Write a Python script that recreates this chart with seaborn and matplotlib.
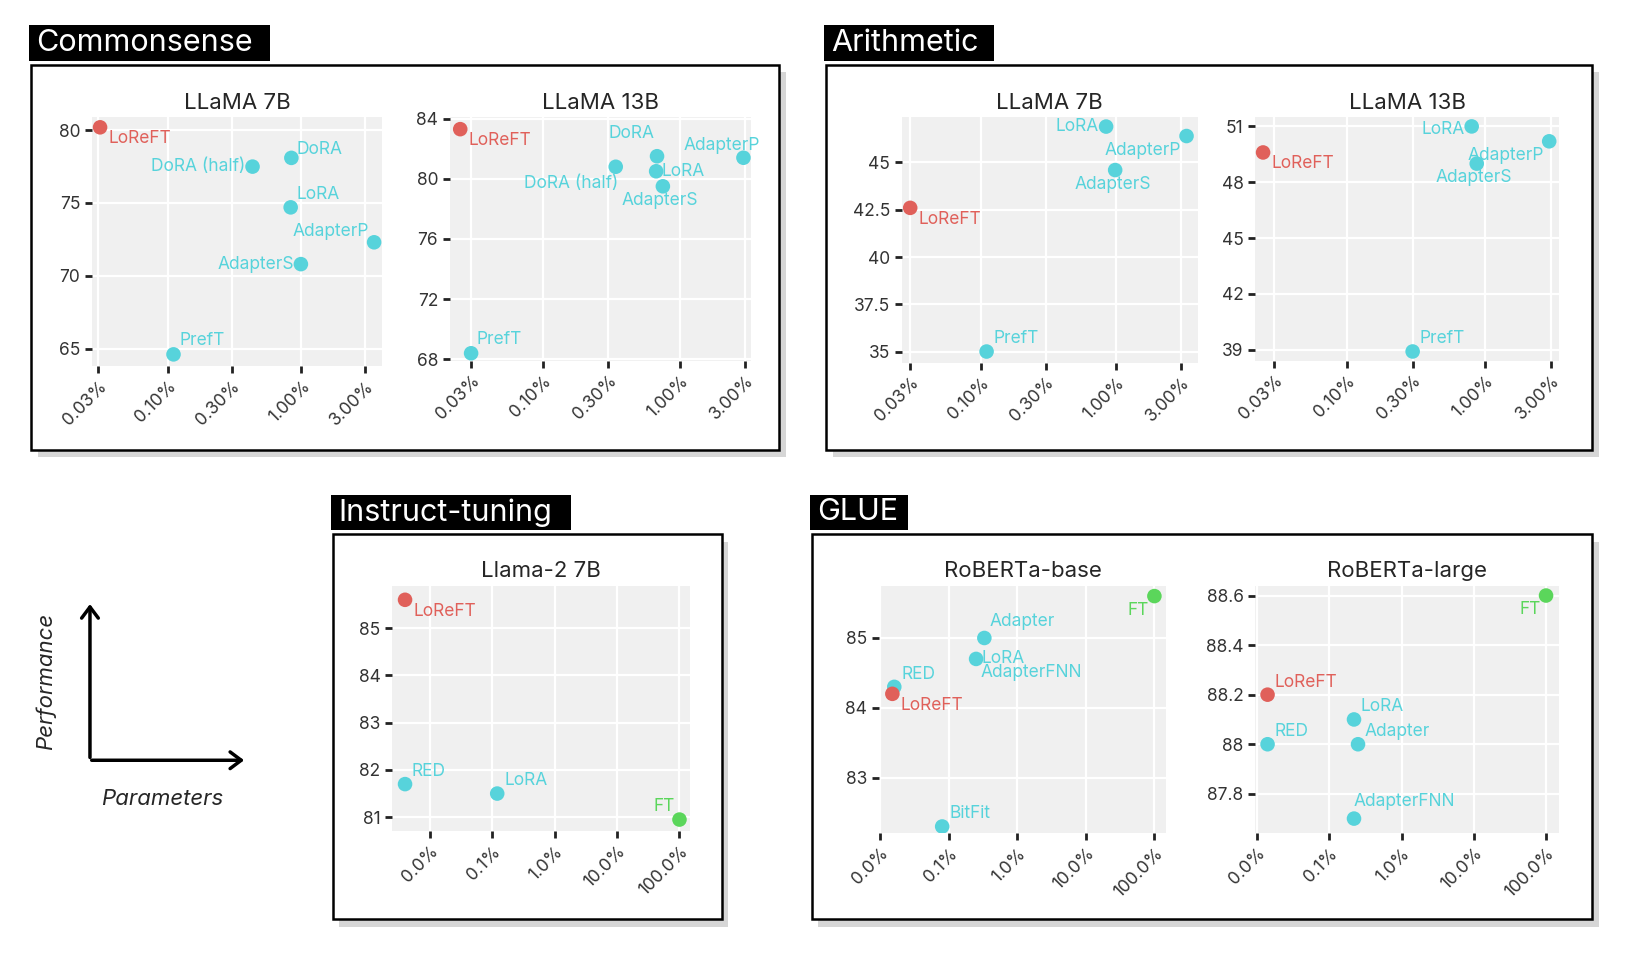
import numpy as np
import pandas as pd
import matplotlib
matplotlib.use("Agg")
import matplotlib.pyplot as plt
import seaborn as sns
from matplotlib.patches import Rectangle

sns.set_theme(style="darkgrid")
plt.rcParams["font.family"] = ["Inter", "DejaVu Sans"]

RED, CYAN, GREEN = "#E0605A", "#57D3DB", "#5BD65B"

# --- data (parameter %, score) ---
cs7_methods = ["LoReFT", "DoRA", "DoRA (half)", "LoRA", "AdapterP", "AdapterS", "PrefT"]
cs7_params = [0.031, 0.84, 0.43, 0.83, 3.5, 0.99, 0.11]
cs7_scores = [80.2, 78.1, 77.5, 74.7, 72.3, 70.8, 64.6]

cs13_methods = ["LoReFT", "DoRA", "DoRA (half)", "LoRA", "AdapterS", "AdapterP", "PrefT"]
cs13_params = [0.025, 0.68, 0.34, 0.67, 0.75, 2.9, 0.03]
cs13_scores = [83.3, 81.5, 80.8, 80.5, 79.5, 81.4, 68.4]

ar7_methods = ["LoReFT", "PrefT", "LoRA", "AdapterS", "AdapterP"]
ar7_params = [0.03, 0.11, 0.84, 0.98, 3.3]
ar7_scores = [42.6, 35.0, 46.9, 44.6, 46.4]

ar13_methods = ["LoReFT", "PrefT", "LoRA", "AdapterS", "AdapterP"]
ar13_params = [0.025, 0.3, 0.8, 0.87, 2.9]
ar13_scores = [49.6, 38.9, 51.0, 49.0, 50.2]

it_methods = ["LoReFT", "RED", "LoRA", "FT"]
it_params = [0.004, 0.004, 0.12, 100]
it_scores = [85.6, 81.7, 81.5, 80.95]

gb_methods = ["RED", "LoReFT", "BitFit", "LoRA", "Adapter", "FT"]
gb_params = [0.016, 0.015, 0.08, 0.25, 0.33, 100]
gb_scores = [84.3, 84.2, 82.3, 84.7, 85.0, 85.6]

gl_methods = ["LoReFT", "RED", "LoRA", "Adapter", "AdapterFNN", "FT"]
gl_params = [0.014, 0.014, 0.22, 0.25, 0.22, 100]
gl_scores = [88.2, 88.0, 88.1, 88.0, 87.7, 88.6]

small_ticks = [0.03, 0.1, 0.3, 1, 3]
big_ticks = [0.01, 0.1, 1, 10, 100]
big_labels = ["0.0%", "0.1%", "1.0%", "10.0%", "100.0%"]

W, H = 1560, 918


def rect(x0, y0, x1, y1):
    return [x0 / W, 1 - y1 / H, (x1 - x0) / W, (y1 - y0) / H]


fig = plt.figure(figsize=(16.32, 9.6), dpi=100)

# section boxes with shadows
for (x0, y0, x1, y1), name, lx1 in [
    ((30, 62, 745, 430), "Commonsense", 258),
    ((790, 62, 1522, 430), "Arithmetic", 950),
    ((318, 511, 690, 879), "Instruct-tuning", 546),
    ((776, 511, 1522, 879), "GLUE", 868),
]:
    fig.patches.append(Rectangle(((x0 + 6) / W, 1 - (y1 + 7) / H), (x1 - x0) / W, (y1 - y0) / H,
                                 transform=fig.transFigure, facecolor="#d6d6d6", edgecolor="none", zorder=0))
    fig.patches.append(Rectangle((x0 / W, 1 - y1 / H), (x1 - x0) / W, (y1 - y0) / H,
                                 transform=fig.transFigure, facecolor="white", edgecolor="black", lw=1.8, zorder=1))
    fig.patches.append(Rectangle(((x0 - 2) / W, 1 - (y0 - 4) / H), (lx1 - x0 + 2) / W, 34 / H,
                                 transform=fig.transFigure, facecolor="black", edgecolor="none", zorder=1))
    fig.text((x0 + 5) / W, 1 - (y0 - 21) / H, name, color="white", fontsize=22, va="center", ha="left", zorder=2)

# label placement: (dx, dy, ha, va) in points
R = (6, -2, "left", "top")
UR = (5, 3, "left", "bottom")
L = (-5, 0, "right", "center")


def panel(box, title, methods, params, scores, ticks, tlabels, yticks, ylim, xlim, places, colors):
    ax = fig.add_axes(rect(*box))
    ax.set_zorder(5)
    df = pd.DataFrame({"p": params, "s": scores, "m": methods})
    sns.scatterplot(data=df, x="p", y="s", hue="m", palette=colors, s=110, edgecolor="none",
                    legend=False, ax=ax, zorder=3)
    ax.set_xscale("log")
    ax.set_xlim(*xlim)
    ax.set_ylim(*ylim)
    ax.set_xticks(ticks)
    ax.set_xticklabels(tlabels, rotation=45, ha="right", rotation_mode="anchor", fontsize=12.5, color="#333333")
    ax.xaxis.set_minor_locator(matplotlib.ticker.NullLocator())
    ax.set_yticks(yticks)
    ax.set_yticklabels([f"{v:g}" for v in yticks], fontsize=12.5, color="#333333")
    ax.set_facecolor("#F0F0F0")
    ax.grid(True, color="white", lw=1.6)
    ax.tick_params(axis="both", length=5, width=2, color="#222222", bottom=True, left=True)
    ax.set_xlabel("")
    ax.set_ylabel("")
    for sp in ax.spines.values():
        sp.set_visible(False)
    ax.set_title(title, fontsize=16, pad=6)
    for m, x, y in zip(methods, params, scores):
        dx, dy, ha, va = places.get(m, UR)
        ax.annotate(m, (x, y), xytext=(dx, dy), textcoords="offset points", ha=ha, va=va,
                    color=colors[m], fontsize=12.5, zorder=4)
    return ax


def cols(methods):
    return {m: RED if m == "LoReFT" else GREEN if m == "FT" else CYAN for m in methods}


pct2 = [f"{t:.2f}%" for t in small_ticks]

panel((88, 112, 365, 350), "LLaMA 7B", cs7_methods, cs7_params, cs7_scores, small_ticks, pct2,
      [65, 70, 75, 80], (63.8, 80.9), (0.027, 4.0),
      {"LoReFT": R, "DoRA": (4, 0, "left", "bottom"), "DoRA (half)": L, "LoRA": (4, 3, "left", "bottom"),
       "AdapterP": (-4, 2, "right", "bottom"), "AdapterS": L, "PrefT": (4, 4, "left", "bottom")}, cols(cs7_methods))

panel((430, 112, 718, 345), "LLaMA 13B", cs13_methods, cs13_params, cs13_scores, small_ticks, pct2,
      [68, 72, 76, 80, 84], (67.9, 84.1), (0.021, 3.3),
      {"LoReFT": R, "DoRA": (-2, 10, "right", "bottom"), "DoRA (half)": (2, -6, "right", "top"),
       "LoRA": (4, 0, "left", "center"), "AdapterS": (-2, -4, "center", "top"),
       "AdapterP": (12, 3, "right", "bottom"), "PrefT": (4, 4, "left", "bottom")}, cols(cs13_methods))

panel((862, 112, 1145, 347), "LLaMA 7B", ar7_methods, ar7_params, ar7_scores, small_ticks, pct2,
      [35, 37.5, 40, 42.5, 45], (34.4, 47.4), (0.026, 4.0),
      {"LoReFT": R, "PrefT": UR, "LoRA": L, "AdapterS": (-2, -4, "center", "top"),
       "AdapterP": (-4, -4, "right", "top")}, cols(ar7_methods))

panel((1200, 112, 1490, 345), "LLaMA 13B", ar13_methods, ar13_params, ar13_scores, small_ticks, pct2,
      [39, 42, 45, 48, 51], (38.4, 51.5), (0.022, 3.4),
      {"LoReFT": R, "PrefT": UR, "LoRA": (-5, -2, "right", "center"), "AdapterS": (-2, -4, "center", "top"),
       "AdapterP": (-4, -4, "right", "top")}, cols(ar13_methods))

panel((375, 560, 660, 795), "Llama-2 7B", it_methods, it_params, it_scores, big_ticks, big_labels,
      [81, 82, 83, 84, 85], (80.7, 85.9), (0.0025, 150),
      {"LoReFT": R, "RED": UR, "LoRA": UR, "FT": (-3, 3, "right", "bottom")}, cols(it_methods))

ax = panel((840, 560, 1115, 797), "RoBERTa-base", gb_methods, gb_params, gb_scores, big_ticks, big_labels,
           [83, 84, 85], (82.2, 85.75), (0.0095, 150),
           {"RED": UR, "LoReFT": R, "BitFit": UR, "LoRA": (4, 0, "left", "center"),
            "Adapter": (4, 6, "left", "bottom"), "FT": (-4, -4, "right", "top")}, cols(gb_methods))
ax.annotate("AdapterFNN", (gb_params[3], gb_scores[3]), xytext=(3, -4), textcoords="offset points",
            ha="left", va="top", color=CYAN, fontsize=12.5, zorder=4)

panel((1200, 560, 1490, 797), "RoBERTa-large", gl_methods, gl_params, gl_scores, big_ticks, big_labels,
      [87.8, 88, 88.2, 88.4, 88.6], (87.64, 88.64), (0.0095, 150),
      {"LoReFT": UR, "RED": UR, "LoRA": UR, "Adapter": (5, 3, "left", "bottom"),
       "AdapterFNN": (0, 6, "left", "bottom"), "FT": (-4, -4, "right", "top")}, cols(gl_methods))

# Performance / Parameters sketch
x0, y0 = 86 / W, 1 - 727 / H
fig.add_artist(matplotlib.patches.FancyArrowPatch((x0, y0), (x0, 1 - 575 / H), transform=fig.transFigure,
                                                  arrowstyle="->,head_length=8,head_width=6", lw=2.5, color="black"))
fig.add_artist(matplotlib.patches.FancyArrowPatch((x0 - 1 / W, y0), (236 / W, y0), transform=fig.transFigure,
                                                  arrowstyle="->,head_length=8,head_width=6", lw=2.5, color="black"))
fig.text(44 / W, 1 - 652 / H, "Performance", rotation=90, style="italic", fontsize=16, ha="center", va="center")
fig.text(155 / W, 1 - 764 / H, "Parameters", style="italic", fontsize=16, ha="center", va="center")

fig.savefig("out.png", dpi=100)
